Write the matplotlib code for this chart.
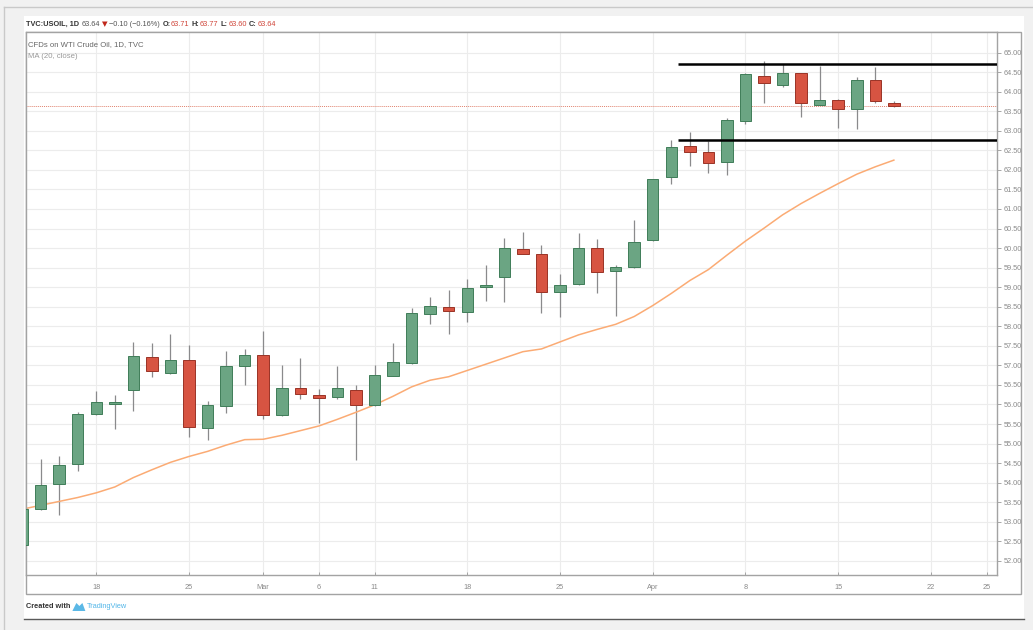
import numpy as np
import pandas as pd
import matplotlib
matplotlib.use("Agg")
import matplotlib.pyplot as plt
from matplotlib.patches import Rectangle, Polygon

plt.rcParams['font.family'] = ['Liberation Sans', 'DejaVu Sans']

# --- data: USOIL daily candles, 12 Feb - 18 Apr 2019 ---
dates = pd.bdate_range("2019-02-12", "2019-04-18")
opens = [52.40, 53.33, 53.96, 54.48, 55.75, 56.01, 56.37, 57.22, 56.81, 57.15,
         55.41, 55.96, 56.99, 57.26, 55.72, 56.42, 56.24, 56.18, 56.37, 55.98,
         56.74, 57.06, 58.31, 58.49, 58.37, 59.00, 59.27, 59.97, 59.85, 58.87,
         59.07, 59.99, 59.41, 59.51, 60.20, 61.81, 62.61, 62.47, 62.20, 63.26,
         64.40, 64.18, 64.47, 63.67, 63.79, 63.55, 64.31, 63.71]
highs = [53.36, 54.60, 54.68, 55.81, 56.35, 56.24, 57.60, 57.58, 57.80, 57.53,
         56.10, 57.37, 57.42, 57.87, 57.00, 57.18, 56.39, 56.98, 56.50, 57.00,
         57.56, 58.48, 58.74, 58.94, 59.22, 59.57, 60.27, 60.40, 60.07, 59.33,
         60.39, 60.22, 59.56, 60.73, 61.78, 62.76, 62.98, 62.74, 63.32, 64.47,
         64.79, 64.71, 64.48, 64.65, 63.82, 64.37, 64.62, 63.77]
lows = [52.38, 53.30, 53.17, 54.30, 55.72, 55.37, 55.84, 56.71, 56.78, 55.16,
        55.09, 55.77, 56.50, 55.63, 55.70, 56.15, 55.52, 56.13, 54.58, 55.95,
        56.72, 57.03, 58.06, 57.79, 58.11, 58.65, 58.62, 59.85, 58.33, 58.23,
        59.05, 58.86, 58.26, 59.50, 60.18, 61.65, 62.10, 61.93, 61.86, 63.17,
        63.72, 64.11, 63.36, 63.66, 63.07, 63.05, 63.70, 63.60]
closes = [53.33, 53.94, 54.45, 55.75, 56.07, 56.06, 57.24, 56.85, 57.15, 55.43,
          55.98, 56.99, 57.26, 55.73, 56.42, 56.28, 56.16, 56.41, 55.98, 56.76,
          57.08, 58.34, 58.52, 58.38, 58.98, 59.06, 59.99, 59.86, 58.87, 59.05,
          60.01, 59.40, 59.51, 60.15, 61.76, 62.58, 62.47, 62.17, 63.27, 64.45,
          64.23, 64.47, 63.70, 63.79, 63.55, 64.30, 63.75, 63.64]
ma20 = [53.32, 53.42, 53.52, 53.62, 53.74, 53.89, 54.13, 54.33, 54.52, 54.67,
        54.80, 54.96, 55.10, 55.11, 55.21, 55.33, 55.45, 55.62, 55.80, 55.99,
        56.21, 56.45, 56.62, 56.71, 56.87, 57.03, 57.19, 57.35, 57.42, 57.60,
        57.78, 57.92, 58.05, 58.25, 58.53, 58.84, 59.17, 59.45, 59.82, 60.18,
        60.51, 60.85, 61.14, 61.40, 61.65, 61.89, 62.08, 62.25]

tick_dates = ["2019-02-18", "2019-02-25", "2019-03-01", "2019-03-06", "2019-03-11",
              "2019-03-18", "2019-03-25", "2019-04-01", "2019-04-08", "2019-04-15",
              "2019-04-22", "2019-04-25"]
tick_labels = ["18", "25", "Mar", "6", "11", "18", "25", "Apr", "8", "15", "22", "25"]

resistance = 64.72
support = 62.76
level_start = "2019-04-02"
last_price = 63.64

up_fill, up_edge = '#6ba583', '#3f7d58'
dn_fill, dn_edge = '#d75442', '#9a3326'
wick_col = '#8a8a8c'
frame_col = '#a3a3a3'

# trading-day axis (weekends skipped)
all_days = pd.bdate_range("2019-02-12", "2019-04-30")
x = all_days.get_indexer(dates)
tick_pos = all_days.get_indexer(pd.to_datetime(tick_dates))
lvl_x = all_days.get_indexer(pd.to_datetime([level_start]))[0] + 0.36

fig = plt.figure(figsize=(10.33, 6.3), dpi=100, facecolor='#f1f1f1')

# background layer in pixel coordinates
bg = fig.add_axes([0, 0, 1, 1], zorder=-1)
bg.set_xlim(0, 1033)
bg.set_ylim(630, 0)
bg.axis('off')
bg.add_patch(Rectangle((24, 16), 1000, 603, facecolor='white', edgecolor='none'))
bg.plot([4, 1033], [7, 7], color='#c9c9c9', lw=1)
bg.plot([4, 4], [7, 630], color='#c9c9c9', lw=1)
bg.plot([24, 1024], [619, 619], color='#5a5a5a', lw=1)
bg.add_patch(Rectangle((26, 32.3), 994.7, 561.7, facecolor='none', edgecolor=frame_col, lw=1))

# main chart
ax = fig.add_axes([26 / 1033, 1 - 575.3 / 630, (997 - 26) / 1033, (575.3 - 32.3) / 630])
ax.set_facecolor('white')

o = np.array(opens)
c = np.array(closes)
up = c >= o
body_lo = np.minimum(o, c)
body_h = np.maximum(np.abs(c - o), 0.03)

ax.vlines(x, lows, highs, color=wick_col, lw=0.9, zorder=2)
ax.bar(x[up], body_h[up], bottom=body_lo[up], width=0.62,
       color=up_fill, edgecolor=up_edge, linewidth=0.7, zorder=3)
ax.bar(x[~up], body_h[~up], bottom=body_lo[~up], width=0.62,
       color=dn_fill, edgecolor=dn_edge, linewidth=0.7, zorder=3)

ax.plot(x, ma20, color='#fbab74', lw=1.1, zorder=2)

ax.axhline(last_price, color='#e0836f', lw=0.7, ls=(0, (1, 1)), zorder=1)
ax.hlines([resistance, support], lvl_x, 60, color='black', lw=1.8, zorder=4)

ax.set_xlim(0.21, 52.56)
ax.set_ylim(51.63, 65.52)

ax.set_xticks(tick_pos)
ax.set_xticklabels(tick_labels)
ax.set_yticks(np.arange(52.0, 65.01, 0.5))
ax.yaxis.set_major_formatter(matplotlib.ticker.FormatStrFormatter('%.2f'))
ax.yaxis.tick_right()
ax.grid(True, color='#ececec', lw=0.8, zorder=0)
ax.set_axisbelow(True)
ax.tick_params(axis='y', length=3, width=0.6, color='#999999', pad=2,
               labelsize=5.3, labelcolor='#8a8a8a')
ax.tick_params(axis='x', direction='in', length=2.5, width=0.6, color='#999999',
               pad=6, labelsize=5.3, labelcolor='#8a8a8a')
for sp in ax.spines.values():
    sp.set_color(frame_col)
    sp.set_linewidth(1)

# header and legend text
red = '#d0463a'
dark = '#333333'


def write_run(parts, x0, y0):
    # place text pieces one after another, positions in pixels
    r = fig.canvas.get_renderer()
    for s, gap, kw in parts:
        t = fig.text(x0, y0, s, va='center', ha='left', transform=bg.transData, **kw)
        x0 += t.get_window_extent(renderer=r).width + gap
    return x0


fs = 5.3
write_run([
    ("TVC:USOIL, 1D", 2.5, dict(fontsize=fs, weight='bold', color=dark)),
    ("63.64", 2, dict(fontsize=fs, color='#555555')),
    ("\u25bc", 1.5, dict(fontsize=5.2, color='#c0281c', family=['DejaVu Sans'])),
    ("\u22120.10 (\u22120.16%)", 2.5, dict(fontsize=fs, color='#555555')),
    ("O:", 0.3, dict(fontsize=fs, weight='bold', color=dark)),
    ("63.71", 2.5, dict(fontsize=fs, color=red)),
    ("H:", 0.3, dict(fontsize=fs, weight='bold', color=dark)),
    ("63.77", 2.5, dict(fontsize=fs, color=red)),
    ("L:", 0.3, dict(fontsize=fs, weight='bold', color=dark)),
    ("63.60", 2.5, dict(fontsize=fs, color=red)),
    ("C:", 0.3, dict(fontsize=fs, weight='bold', color=dark)),
    ("63.64", 0, dict(fontsize=fs, color=red)),
], 26, 24)

fig.text(28, 45, "CFDs on WTI Crude Oil, 1D, TVC", fontsize=5.6, color='#666666',
         va='center', transform=bg.transData)
fig.text(28, 57, "MA (20, close)", fontsize=5.6, color='#999999',
         va='center', transform=bg.transData)

# footer
lx = write_run([("Created with", 2, dict(fontsize=fs, weight='bold', color=dark))], 26, 607)
bg.add_patch(Polygon([[lx, 611], [lx + 4, 603], [lx + 7, 606], [lx + 10, 603], [lx + 13, 611]],
                     closed=True, facecolor='#5bb8e6', edgecolor='none'))
fig.text(lx + 14, 607, "TradingView", fontsize=fs, color='#52b6e8', va='center',
         transform=bg.transData)

fig.savefig("out.png", dpi=100, facecolor=fig.get_facecolor())
